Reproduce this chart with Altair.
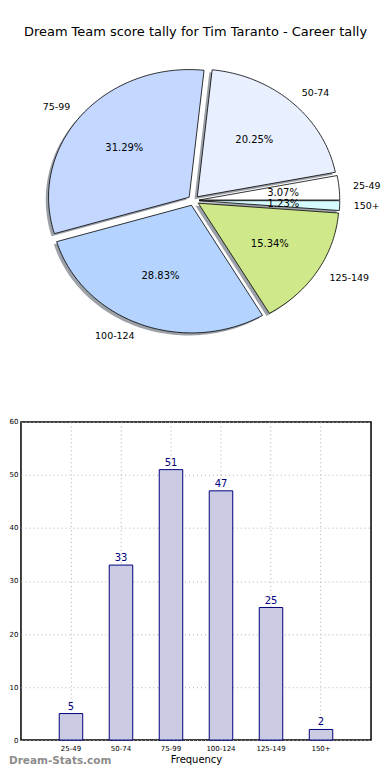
import altair as alt
import numpy as np
import pandas as pd

# ---- data ----
title_text = "Dream Team score tally for Tim Taranto - Career tally"
categories = ["25-49", "50-74", "75-99", "100-124", "125-149", "150+"]
counts = [5, 33, 51, 47, 25, 2]
pie_colors = ["#ffffff", "#e8f0ff", "#c4d8ff", "#b4d4ff", "#cfe98a", "#d6fbff"]
y_ticks = [0, 10, 20, 30, 40, 50, 60]
watermark = "Dream-Stats.com"

# ---- pie geometry built from the counts (unit circle, matplotlib style: CCW from east) ----
total = sum(counts)
explode = 0.04
shadow_off = (-0.02, -0.02)
poly_rows, label_rows = [], []
start = 0.0
for cat, c, col in zip(categories, counts, pie_colors):
    span = 360.0 * c / total
    t1, t2 = start, start + span
    mid = np.deg2rad((t1 + t2) / 2)
    ox, oy = explode * np.cos(mid), explode * np.sin(mid)
    n = int(np.ceil(span / 1.5)) + 2
    angs = np.deg2rad(np.linspace(t1, t2, n))
    pts = [(ox, oy)] + [(ox + np.cos(a), oy + np.sin(a)) for a in angs] + [(ox, oy)]
    for i, (px, py) in enumerate(pts):
        poly_rows.append({"cat": cat, "idx": i, "x": px, "y": py,
                          "sx": px + shadow_off[0], "sy": py + shadow_off[1]})
    lx, ly = ox + 1.1 * np.cos(mid), oy + 1.1 * np.sin(mid)
    label_rows.append({"cat": cat, "lx": lx, "ly": ly,
                       "side": "right" if lx > 0 else "left",
                       "px": ox + 0.6 * np.cos(mid), "py": oy + 0.6 * np.sin(mid),
                       "pct": f"{100.0 * c / total:.2f}%"})
    start = t2

poly_df = pd.DataFrame(poly_rows)
lab_df = pd.DataFrame(label_rows)

PW, PH = 351, 413
CX, CY, RX, RY = 173, 191, 141, 128
xs = alt.Scale(domain=[-CX / RX, (PW - CX) / RX], nice=False, zero=False)
ys = alt.Scale(domain=[(CY - PH) / RY, CY / RY], nice=False, zero=False)

shadow = alt.Chart(poly_df).mark_line(fill="#3a4250", fillOpacity=0.5, strokeOpacity=0).encode(
    x=alt.X("sx:Q", scale=xs, axis=None),
    y=alt.Y("sy:Q", scale=ys, axis=None),
    detail="cat:N",
    order="idx:Q",
)
wedges = alt.Chart(poly_df).mark_line(stroke="black", strokeWidth=0.8, strokeJoin="miter").encode(
    x=alt.X("x:Q", scale=xs, axis=None),
    y=alt.Y("y:Q", scale=ys, axis=None),
    fill=alt.Fill("cat:N", scale=alt.Scale(domain=categories, range=pie_colors), legend=None),
    order="idx:Q",
)
lab_right = alt.Chart(lab_df).transform_filter("datum.side == 'right'").mark_text(
    align="left", baseline="middle", fontSize=9.5, color="black").encode(
    x=alt.X("lx:Q", scale=xs, axis=None), y=alt.Y("ly:Q", scale=ys, axis=None), text="cat:N")
lab_left = alt.Chart(lab_df).transform_filter("datum.side == 'left'").mark_text(
    align="right", baseline="middle", fontSize=9.5, color="black").encode(
    x=alt.X("lx:Q", scale=xs, axis=None), y=alt.Y("ly:Q", scale=ys, axis=None), text="cat:N")
pct = alt.Chart(lab_df).mark_text(align="center", baseline="middle", fontSize=10, color="black").encode(
    x=alt.X("px:Q", scale=xs, axis=None), y=alt.Y("py:Q", scale=ys, axis=None), text="pct:N")
title = alt.Chart(pd.DataFrame({"t": [title_text]})).mark_text(
    align="center", baseline="middle", fontSize=13, color="black").encode(
    text="t:N", x=alt.value(175), y=alt.value(22))

pie = alt.layer(shadow, wedges, lab_right, lab_left, pct, title).properties(
    width=PW, height=PH, view=alt.ViewBackground(stroke="transparent"))

# ---- bar chart ----
bar_df = pd.DataFrame({"cat": categories, "count": counts})
xenc = alt.X("cat:N", sort=categories,
             scale=alt.Scale(paddingInner=0, paddingOuter=0.5),
             axis=alt.Axis(title="Frequency", labelAngle=0, labelFontSize=7, titleFontSize=10,
                           titleFontWeight="normal", grid=True, gridDash=[1, 3], gridColor="#b0b0b0",
                           domain=False, tickSize=0, labelPadding=4, titlePadding=4,
                           bandPosition=0.5))
yenc = alt.Y("count:Q", scale=alt.Scale(domain=[0, 60], nice=False),
             axis=alt.Axis(title=None, values=y_ticks, labelFontSize=7, grid=True, gridDash=[1, 3],
                           gridColor="#b0b0b0", domain=False, tickSize=0, labelPadding=3))
bars = alt.Chart(bar_df).mark_bar(width=alt.RelativeBandSize(0.47), fill="#cbcbe4",
                                  stroke="#000080", strokeWidth=1).encode(x=xenc, y=yenc)
vals = alt.Chart(bar_df).mark_text(baseline="bottom", dy=-2, fontSize=10, color="#000080").encode(
    x=xenc, y=yenc, text="count:Q")
wm = alt.Chart(pd.DataFrame({"t": [watermark]})).mark_text(
    align="left", baseline="bottom", fontSize=10.5, fontWeight="bold", color="#8c8c8c").encode(
    text="t:N", x=alt.value(-12), y=alt.value(345))

bar = alt.layer(bars, vals, wm).properties(
    width=351, height=319, view=alt.ViewBackground(stroke="black", strokeWidth=1.5))

chart = alt.vconcat(pie, bar, spacing=0, bounds="flush").properties(padding=0).configure(
    font="DejaVu Sans").configure_axis(labelColor="black", titleColor="black")

chart.save("out.html", embed_options={"renderer": "svg", "actions": False})
